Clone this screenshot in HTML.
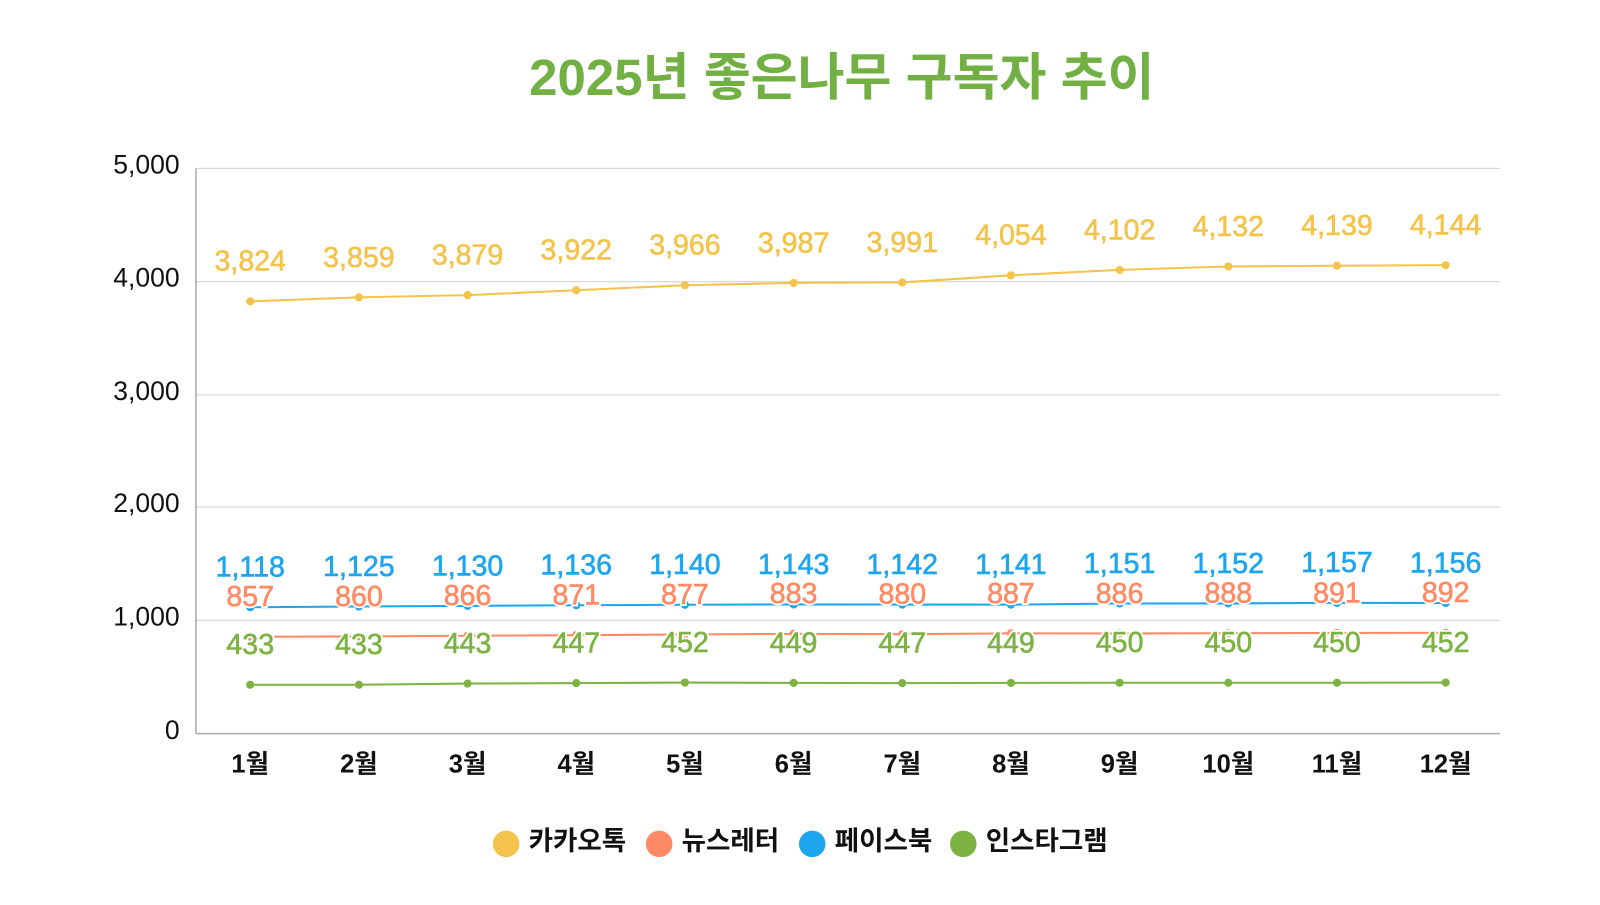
<!DOCTYPE html>
<html><head><meta charset="utf-8"><style>
html,body{margin:0;padding:0;background:#fff;}
svg text{font-family:"Liberation Sans","Noto Sans CJK KR",sans-serif;}
</style></head><body>
<svg width="1600" height="900" xmlns="http://www.w3.org/2000/svg">
<rect width="1600" height="900" fill="#fff"/>
<g transform="scale(1.0204)">
<text x="825" y="93" text-anchor="middle" font-size="50" font-weight="bold" fill="#72B043">2025년 좋은나무 구독자 추이</text>
<g stroke="#d9d9d9" stroke-width="1.2">
<line x1="192" y1="165" x2="1470" y2="165"/>
<line x1="192" y1="276" x2="1470" y2="276"/>
<line x1="192" y1="387" x2="1470" y2="387"/>
<line x1="192" y1="497" x2="1470" y2="497"/>
<line x1="192" y1="608" x2="1470" y2="608"/>
</g>
<line x1="192" y1="165" x2="192" y2="719" stroke="#aaa" stroke-width="1.5"/>
<line x1="192" y1="719" x2="1470" y2="719" stroke="#aaa" stroke-width="1.5"/>
<g font-size="26" fill="#111" text-anchor="end">
<text x="176" y="170">5,000</text><text x="176" y="281">4,000</text><text x="176" y="392">3,000</text>
<text x="176" y="502">2,000</text><text x="176" y="613">1,000</text><text x="176" y="724">0</text>
</g>
<g id="c"></g>
<g font-size="26" font-weight="bold" fill="#111">
<circle cx="496" cy="827" r="13" fill="#F4C34B"/><text x="518" y="833">카카오톡</text>
<circle cx="646" cy="827" r="13" fill="#FF8A65"/><text x="668" y="833">뉴스레터</text>
<circle cx="796" cy="827" r="13" fill="#1DA5EE"/><text x="818" y="833">페이스북</text>
<circle cx="944" cy="827" r="13" fill="#7CB342"/><text x="966" y="833">인스타그램</text>
</g>
</g>
</svg>
<script>
const S=[
["#F4C34B",[3824,3859,3879,3922,3966,3987,3991,4054,4102,4132,4139,4144]],
["#1DA5EE",[1118,1125,1130,1136,1140,1143,1142,1141,1151,1152,1157,1156]],
["#FF8A65",[857,860,866,871,877,883,880,887,886,888,891,892]],
["#7CB342",[433,433,443,447,452,449,447,449,450,450,450,452]]];
const ns="http://www.w3.org/2000/svg",g=document.getElementById("c");
const X=i=>192+106.5*(i+0.5),Y=v=>719-v*0.1108;
function el(t,a,txt){const e=document.createElementNS(ns,t);for(const k in a)e.setAttribute(k,a[k]);if(txt)e.textContent=txt;g.appendChild(e);return e;}
for(let i=0;i<12;i++)el("text",{x:X(i),y:757,"text-anchor":"middle","font-size":"25","font-weight":"bold",fill:"#111"},(i+1)+"월");
S.forEach(([c,d])=>{el("polyline",{points:d.map((v,i)=>X(i)+","+Y(v)).join(" "),fill:"none",stroke:c,"stroke-width":2});
d.forEach((v,i)=>el("circle",{cx:X(i),cy:Y(v),r:4,fill:c}));});
S.forEach(([c,d])=>d.forEach((v,i)=>{el("text",{x:X(i),y:Y(v)-30,"text-anchor":"middle","font-size":"28",fill:"#fff",stroke:"#fff","stroke-width":4},v.toLocaleString("en-US"));
el("text",{x:X(i),y:Y(v)-30,"text-anchor":"middle","font-size":"28",fill:c,stroke:c,"stroke-width":0.6},v.toLocaleString("en-US"));}));
</script>
</body></html>
